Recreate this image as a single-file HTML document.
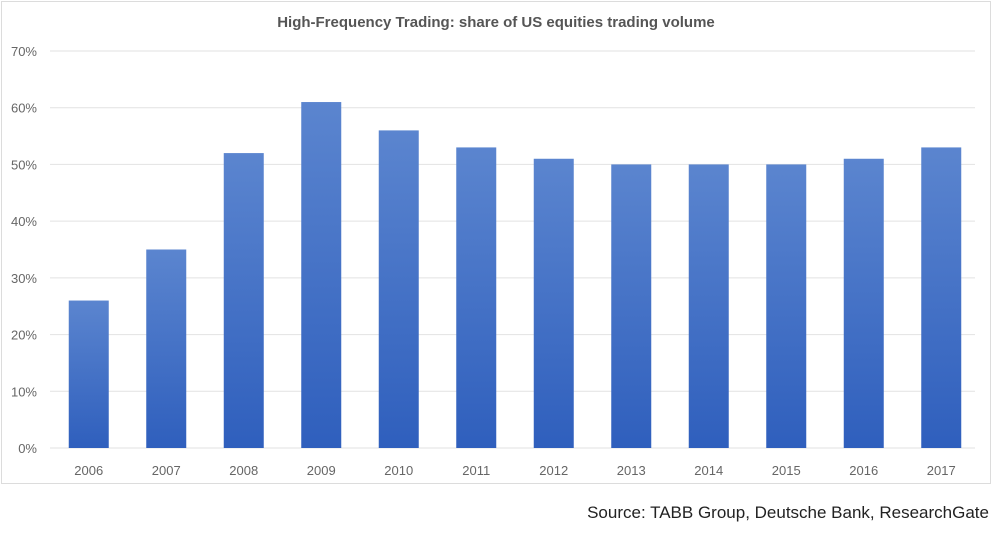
<!DOCTYPE html>
<html><head><meta charset="utf-8"><style>
body{margin:0;background:#fff;width:996px;height:533px;overflow:hidden;font-family:"Liberation Sans",sans-serif}
#frame{position:absolute;left:1px;top:1px;width:990px;height:483px;border:1px solid #dcdcdc;box-sizing:border-box}
#src{position:absolute;right:7px;top:503px;font-size:17px;color:#222}
</style></head><body>
<div id="frame"></div>
<svg id="chart" width="996" height="490" style="position:absolute;left:0;top:0">
<defs><linearGradient id="g" x1="0" y1="0" x2="0" y2="1"><stop offset="0" stop-color="#5b85cf"/><stop offset="1" stop-color="#2f5fbd"/></linearGradient></defs>
<text x="496" y="27" text-anchor="middle" font-size="15" font-weight="bold" fill="#555">High-Frequency Trading: share of US equities trading volume</text>
<g id="grid"></g><g id="bars"></g><g id="xl"></g>
</svg>
<div id="src">Source: TABB Group, Deutsche Bank, ResearchGate</div>
<script>
const categories=["2006","2007","2008","2009","2010","2011","2012","2013","2014","2015","2016","2017"];
const values=[26,35,52,61,56,53,51,50,50,50,51,53];
const ticks=[0,10,20,30,40,50,60,70];
const tickLabels=["0%","10%","20%","30%","40%","50%","60%","70%"];
const L=50,R=980,Y0=448,Y70=51;
const y=v=>Y0-(v/70)*(Y0-Y70);
const bw=(R-L)/categories.length;
const x=i=>L+bw*i+bw/2;
const ns="http://www.w3.org/2000/svg";
const grid=document.getElementById('grid'),bars=document.getElementById('bars'),xl=document.getElementById('xl');
ticks.forEach((t,i)=>{
 const l=document.createElementNS(ns,'line');
 l.setAttribute('x1',L);l.setAttribute('x2',R-5);l.setAttribute('y1',y(t));l.setAttribute('y2',y(t));
 l.setAttribute('stroke','#e2e2e2');
 
 
 grid.appendChild(l);
 const tx=document.createElementNS(ns,'text');
 tx.setAttribute('x',37);tx.setAttribute('y',y(t)+5);tx.setAttribute('text-anchor','end');
 tx.setAttribute('font-size','13');tx.setAttribute('fill','#666');tx.textContent=tickLabels[i];
 
 
 grid.appendChild(tx);
});
categories.forEach((c,i)=>{
 const r=document.createElementNS(ns,'rect');
 r.setAttribute('x',x(i)-20);r.setAttribute('width',40);
 r.setAttribute('y',y(values[i]));r.setAttribute('height',Y0-y(values[i]));
 r.setAttribute('fill','url(#g)');
 
 
 bars.appendChild(r);
 const tx=document.createElementNS(ns,'text');
 tx.setAttribute('x',x(i));tx.setAttribute('y',475);tx.setAttribute('text-anchor','middle');
 tx.setAttribute('font-size','13');tx.setAttribute('fill','#666');tx.textContent=c;
 
 
 xl.appendChild(tx);
});
</script>
</body></html>
